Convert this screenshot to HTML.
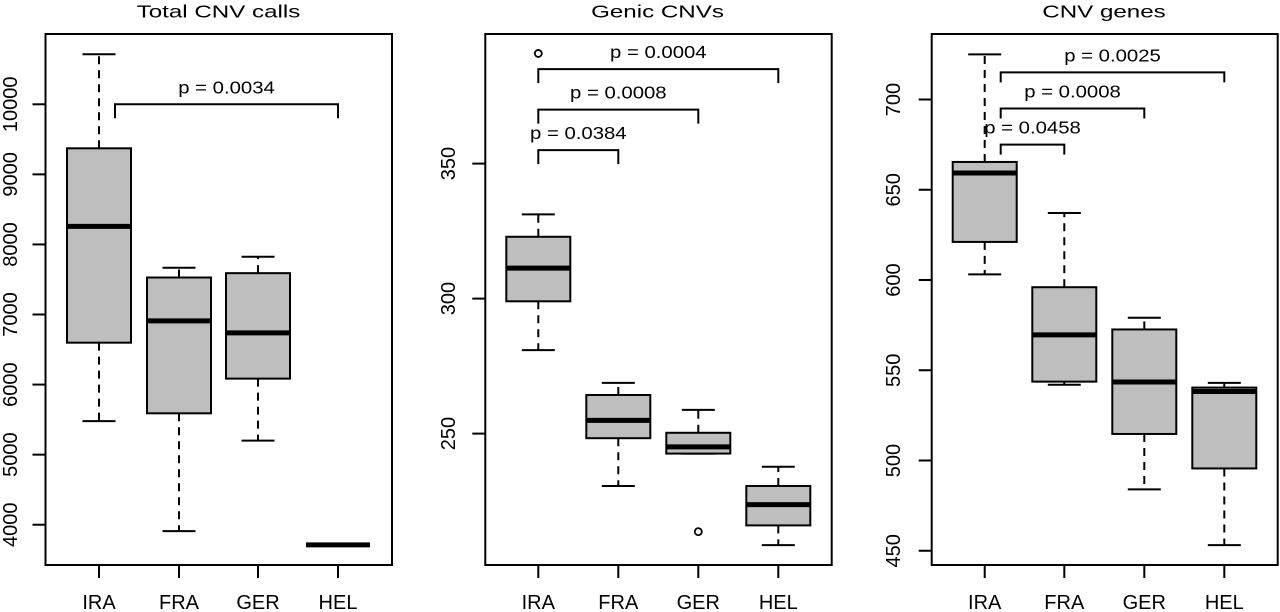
<!DOCTYPE html>
<html><head><meta charset="utf-8"><style>
html,body{margin:0;padding:0;background:#fff;}
svg{display:block;font-family:"Liberation Sans",Arial,sans-serif;}
</style></head><body>
<svg id="chart" width="1280" height="612" viewBox="0 0 1280 612"></svg>
<script>
const categories = ["IRA","FRA","GER","HEL"];
const titles = ["Total CNV calls","Genic CNVs","CNV genes"];
// [low, q1, median, q3, high]
const totalCalls = [[5479,6598,8258,9372,10714],[3908,5590,6910,7528,7668],[5200,6085,6738,7590,7824],[3712,3712,3712,3712,3712]];
const genicCnvs = [[280.9,299.0,311.3,322.9,331.2],[230.6,248.3,254.9,264.3,268.8],[242.6,242.6,245.1,250.3,258.8],[208.7,216.0,223.7,230.6,237.7]];
const cnvGenes = [[603.1,621.1,659.3,665.4,725.0],[542.0,543.7,569.6,596.0,637.1],[484.0,514.7,543.5,572.6,579.1],[453.1,495.6,538.2,540.4,543.0]];
const genicOutliers = [[0,390.8],[2,213.7]];
const totalTicks = [4000,5000,6000,7000,8000,9000,10000];
const genicTicks = [250,300,350];
const genesTicks = [450,500,550,600,650,700];
// comparisons: [fromIdx, toIdx, bracketValue, label]
const totalComps = [[0,3,10000,"p = 0.0034"]];
const genicComps = [[0,1,355,"p = 0.0384"],[0,2,370,"p = 0.0008"],[0,3,385,"p = 0.0004"]];
const genesComps = [[0,1,675,"p = 0.0458"],[0,2,695,"p = 0.0008"],[0,3,715,"p = 0.0025"]];

const NS="http://www.w3.org/2000/svg";
const svg=document.getElementById('chart');
function mk(tag,attrs,parent){const e=document.createElementNS(NS,tag);for(const k in attrs)e.setAttribute(k,attrs[k]);(parent||svg).appendChild(e);return e;}

const panels=[
 {title:titles[0],data:totalCalls,ticks:totalTicks,comps:totalComps,outl:[],x0:45.5,x1:392,cx:[99,179,258,338],v0:10000,y0:104.3,k:0.07007,tlx:10,ttx:218.5,bstart:16,drop:14},
 {title:titles[1],data:genicCnvs,ticks:genicTicks,comps:genicComps,outl:genicOutliers,x0:485.3,x1:831.7,cx:[538.3,618.3,698.3,778.3],v0:300,y0:298.6,k:2.70,tlx:448,ttx:657.5,bstart:0,drop:14},
 {title:titles[2],data:cnvGenes,ticks:genesTicks,comps:genesComps,outl:[],x0:931.7,x1:1277.7,cx:[984.7,1064.3,1144.3,1224.3],v0:700,y0:99.5,k:1.805,tlx:893,ttx:1104,bstart:16,drop:10}
];
const TOP=34,BOT=565;
panels.forEach((p,pi)=>{
 const g=mk('g',{});
 
 
 const y=v=>p.y0+(p.v0-v)*p.k;
 const t=mk('text',{x:0,y:0,transform:`translate(${p.ttx},17.3) scale(1.38,1)`,'text-anchor':'middle','font-size':17.5,fill:'#000'},g);t.textContent=p.title;
 
 
 const fr=mk('rect',{x:p.x0,y:TOP,width:p.x1-p.x0,height:BOT-TOP,fill:'none',stroke:'#000','stroke-width':2},g);
 
 
 p.ticks.forEach(v=>{
  const yy=y(v);
  const tk=mk('line',{x1:p.x0-13,x2:p.x0,y1:yy,y2:yy,stroke:'#000','stroke-width':2},g);
  
  
  const tl=mk('text',{x:0,y:0,transform:`translate(${p.tlx+7},${yy}) rotate(-90)`,'text-anchor':'middle','font-size':20,fill:'#000'},g);
  tl.textContent=v;
  
  
 });
 categories.forEach((c,i)=>{
  const x=p.cx[i];
  const tk=mk('line',{x1:x,x2:x,y1:BOT,y2:BOT+13,stroke:'#000','stroke-width':2},g);
  
  
  const tl=mk('text',{x:x,y:609,'text-anchor':'middle','font-size':20,fill:'#000'},g);
  tl.textContent=c;
  
  
  const d=p.data[i];
  const bg=mk('g',{},g);
  
  
  const hw=32,cw=16.5;
  if(d[4]!==d[0]){
   mk('line',{x1:x,x2:x,y1:y(d[3]),y2:y(d[4]),stroke:'#000','stroke-width':2,'stroke-dasharray':'8,6'},bg);
   mk('line',{x1:x,x2:x,y1:y(d[1]),y2:y(d[0]),stroke:'#000','stroke-width':2,'stroke-dasharray':'8,6'},bg);
   mk('line',{x1:x-cw,x2:x+cw,y1:y(d[4]),y2:y(d[4]),stroke:'#000','stroke-width':2},bg);
   mk('line',{x1:x-cw,x2:x+cw,y1:y(d[0]),y2:y(d[0]),stroke:'#000','stroke-width':2},bg);
   mk('rect',{x:x-hw,y:y(d[3]),width:2*hw,height:y(d[1])-y(d[3]),fill:'#bebebe',stroke:'#000','stroke-width':2},bg);
  }
  mk('line',{x1:x-hw,x2:x+hw,y1:y(d[2]),y2:y(d[2]),stroke:'#000','stroke-width':5},bg);
 });
 p.outl.forEach(o=>{
  const c=mk('circle',{cx:p.cx[o[0]],cy:y(o[1]),r:3.5,fill:'none',stroke:'#000','stroke-width':1.8},g);
  
  
 });
 p.comps.forEach(cp=>{
  const xa=p.cx[cp[0]]+p.bstart, xb=p.cx[cp[1]], yy=y(cp[2]);
  const br=mk('path',{d:`M${xa},${yy+p.drop}V${yy}H${xb}V${yy+p.drop}`,fill:'none',stroke:'#000','stroke-width':2},g);
  
  
  const tx=mk('text',{x:0,y:0,transform:`translate(${(xa+xb)/2},${yy-11}) scale(1.13,1)`,'text-anchor':'middle','font-size':18,fill:'#000'},g);
  tx.textContent=cp[3];
  
  
 });
});
</script>
</body></html>
